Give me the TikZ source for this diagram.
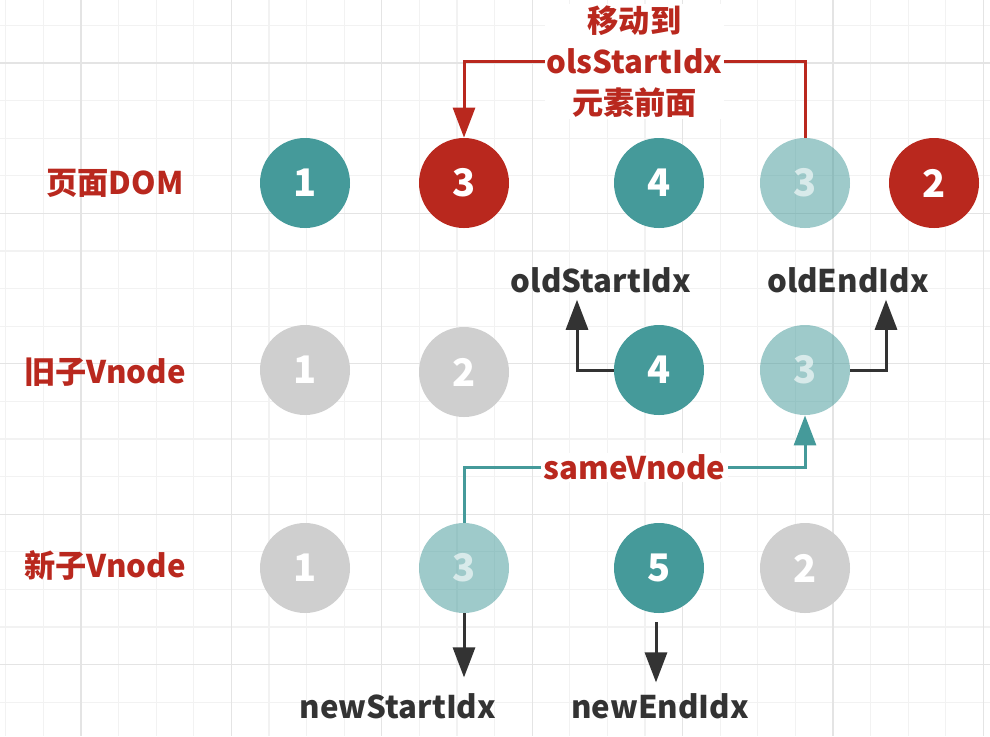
\documentclass[tikz,border=0pt]{standalone}
\usepackage{fontspec}
\setmainfont{Noto Sans CJK SC}
\usetikzlibrary{arrows.meta}
\definecolor{tealc}{HTML}{459A9A}
\definecolor{redc}{HTML}{B9281E}
\definecolor{greyc}{HTML}{CFCFCF}
\definecolor{inkc}{HTML}{333333}
\definecolor{gridminor}{HTML}{F2F2F2}
\definecolor{gridmajor}{HTML}{E4E4E4}
\begin{document}
\begin{tikzpicture}[x=0.5pt,y=-0.5pt,
            font=\fontsize{15.6pt}{20.5pt}\selectfont\bfseries,
            ball/.style={circle,minimum size=45pt,inner sep=0pt,text=white,
              font=\fontsize{19pt}{22pt}\selectfont\bfseries},
            tealball/.style={ball,fill=tealc},
            fadeball/.style={ball,fill=tealc,fill opacity=0.52,text opacity=0.6},
            redball/.style={ball,fill=redc},
            greyball/.style={ball,fill=greyc},
            rowlabel/.style={anchor=east,text=redc,inner sep=0pt},
            idxlabel/.style={text=inkc},
            pointer/.style={draw=inkc,line width=1.5pt,-{Triangle[length=15pt,width=11pt]}},
            move/.style={draw=redc,line width=1.5pt,-{Triangle[length=15pt,width=11pt]}},
            same/.style={draw=tealc,line width=1.5pt,-{Triangle[length=15pt,width=11pt]}}]
            \useasboundingbox (0,0) rectangle (990,736);
            % grid
            \foreach \i in {0,...,26} {
              \draw[gridminor,line width=0.6pt] (5.8+37.6*\i,0) -- (5.8+37.6*\i,736);
            }
            \foreach \i in {0,...,19} {
              \draw[gridminor,line width=0.6pt] (0,25.4+37.6*\i) -- (990,25.4+37.6*\i);
            }
            \foreach \i in {0,...,6} {
              \draw[gridmajor,line width=0.6pt] (81+150.4*\i,0) -- (81+150.4*\i,736);
            }
            \foreach \i in {0,...,4} {
              \draw[gridmajor,line width=0.6pt] (0,63+150.4*\i) -- (990,63+150.4*\i);
            }
            % rows
            \node[rowlabel] (domlabel) at (184,183) {页面DOM};
            \node[rowlabel] (oldlabel) at (186,372) {旧子Vnode};
            \node[rowlabel] (newlabel) at (186,566) {新子Vnode};
            \node[tealball] (dom1) at (305,183) {1};
            \node[redball] (dom3) at (464,183) {3};
            \node[tealball] (dom4) at (659,183) {4};
            \node[fadeball] (domfade) at (805,183) {3};
            \node[redball] (dom2) at (934,183) {2};
            \node[greyball] (old1) at (305,370) {1};
            \node[greyball] (old2) at (464,372) {2};
            \node[tealball] (old4) at (659,370) {4};
            \node[fadeball] (old3) at (805,370) {3};
            \node[greyball] (new1) at (305,568) {1};
            \node[fadeball] (new3) at (464,568) {3};
            \node[tealball] (new5) at (659,568) {5};
            \node[greyball] (new2) at (805,568) {2};
            % index labels
            \node[idxlabel] (oldstart) at (601,280) {oldStartIdx};
            \node[idxlabel] (oldend) at (848,280) {oldEndIdx};
            \node[idxlabel] (newstart) at (398,706) {newStartIdx};
            \node[idxlabel] (newend) at (660,706) {newEndIdx};
            \draw[pointer] (old4.west) -| ([xshift=-12pt]oldstart.south);
            \draw[pointer] (old3.east) -| ([xshift=19pt]oldend.south);
            \draw[pointer] (new3.south) -- ++(0,64);
            \draw[pointer] ([xshift=-1.5pt]new5.south) ++(0,9) -- ++(0,60);
            % moves
            \draw[move] (domfade.north) -- ++(0,-76) -| (dom3.north)
              node[pos=0.25,fill=white,text=redc,align=center,inner sep=1pt] (movelabel) {移动到\\olsStartIdx\\元素前面};
            \draw[same] (new3.north) -- ++(0,-55) -| (old3.south)
              node[pos=0.25,fill=white,text=redc,inner sep=1pt] (samelabel) {sameVnode};
\end{tikzpicture}
\end{document}
